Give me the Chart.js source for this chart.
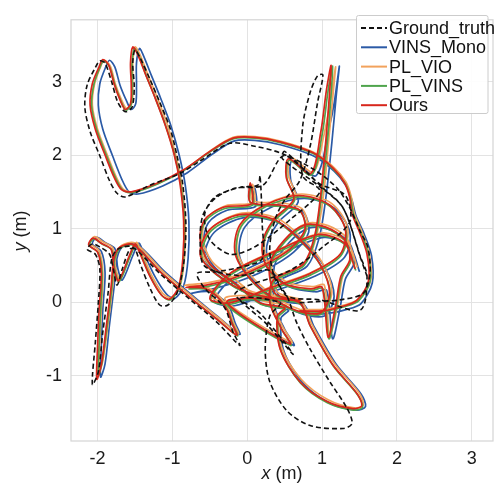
<!DOCTYPE html>
<html>
<head>
<meta charset="utf-8">
<script src="https://cdn.jsdelivr.net/npm/chart.js@4.4.1/dist/chart.umd.min.js"></script>
<style>
html,body{margin:0;padding:0;background:#fff;}
#wrap{width:496px;height:491px;position:relative;}
</style>
</head>
<body>
<div id="wrap"><canvas id="c" width="496" height="491"></canvas></div>
<script>
const seriesNames = ["Ground_truth", "VINS_Mono", "PL_VIO", "PL_VINS", "Ours"];
const xTicks = [-2, -1, 0, 1, 2, 3];
const yTicks = [-1, 0, 1, 2, 3];

const groundTruth = [[0.70,-0.01],[0.97,0.01],[1.24,0.03],[1.55,0.12],[1.64,0.39],[1.61,0.75],[1.51,0.96],[1.37,1.28],[1.20,1.55],[0.88,1.81],[0.44,2.03],[0.10,2.12],[-0.23,2.16],[-0.63,1.92],[-0.90,1.75],[-1.30,1.59],[-1.63,1.43],[-1.74,1.48],[-1.84,1.65],[-1.97,1.99],[-2.10,2.32],[-2.17,2.65],[-2.14,2.95],[-2.03,3.19],[-1.97,3.28],[-1.90,3.25],[-1.81,2.99],[-1.73,2.72],[-1.63,2.59],[-1.54,2.65],[-1.51,2.92],[-1.53,3.25],[-1.50,3.43],[-1.43,3.32],[-1.30,3.03],[-1.17,2.72],[-1.03,2.36],[-0.93,1.95],[-0.86,1.59],[-0.82,1.05],[-0.85,0.52],[-0.94,0.12],[-1.06,-0.04],[-1.17,-0.04],[-1.30,0.19],[-1.43,0.52],[-1.50,0.72],[-1.57,0.72],[-1.67,0.45],[-1.74,0.23],[-1.79,0.45],[-1.84,0.65],[-1.97,0.75],[-2.07,0.79],[-2.14,0.72],[-2.03,0.65],[-1.97,0.45],[-1.99,-0.01],[-2.03,-0.55],[-2.07,-1.12],[-1.99,-0.95],[-1.93,-0.41],[-1.86,0.12],[-1.81,0.59],[-1.73,0.72],[-1.54,0.75],[-1.17,0.39],[-0.77,0.04],[-0.43,-0.25],[-0.10,-0.59],[-0.19,-0.41],[-0.30,-0.08],[-0.57,0.19],[-0.67,0.39],[-0.43,0.41],[-0.03,0.49],[0.20,0.59],[0.20,1.05],[0.17,1.72],[0.14,1.59],[-0.10,1.56],[-0.43,1.43],[-0.57,1.19],[-0.50,0.85],[-0.23,0.65],[0.04,0.72],[0.30,0.89],[0.57,1.12],[0.84,1.35],[0.97,1.52],[0.74,1.72],[0.74,2.39],[0.84,2.85],[0.94,3.08],[1.01,3.09],[0.94,2.72],[0.84,2.12],[0.70,1.65],[0.50,1.39],[0.37,1.12],[0.30,0.72],[0.37,0.32],[0.53,0.08],[0.66,-0.28],[0.84,-0.64],[1.10,-1.08],[1.33,-1.44],[1.40,-1.65],[1.28,-1.72],[0.84,-1.68],[0.53,-1.48],[0.30,-1.08],[0.24,-0.64],[0.30,-0.19],[0.44,-0.01],[-0.10,0.05],[0.24,-0.28],[0.61,-0.71],[0.50,-0.55],[0.17,-0.15],[-0.16,0.12],[0.57,0.43],[1.01,0.75],[1.37,1.09],[1.31,1.45],[0.95,1.62],[0.50,2.05],[0.47,1.95],[0.97,1.57],[1.28,1.28],[1.51,0.62],[1.60,0.35],[1.51,-0.11],[0.97,0.03],[0.53,0.08],[0.30,0.43],[-0.10,0.36],[-0.57,0.49],[-0.63,0.85],[-0.59,1.19],[-0.43,1.41],[-0.16,1.55],[0.21,1.59],[0.48,1.99],[0.77,1.79],[0.97,1.59],[1.28,1.28],[1.51,0.61],[1.60,0.35]];

const vinsMono = [[0.73,-0.15],[1.03,-0.16],[1.33,-0.10],[1.52,-0.02],[1.67,0.26],[1.66,0.63],[1.56,0.93],[1.45,1.18],[1.40,1.38],[1.32,1.58],[1.16,1.78],[0.88,1.99],[0.44,2.14],[0.10,2.20],[-0.18,2.19],[-0.47,2.01],[-0.80,1.76],[-1.13,1.58],[-1.46,1.47],[-1.58,1.50],[-1.68,1.68],[-1.80,1.99],[-1.93,2.35],[-1.99,2.68],[-1.97,2.97],[-1.89,3.20],[-1.84,3.29],[-1.77,3.20],[-1.70,2.95],[-1.61,2.73],[-1.55,2.62],[-1.49,2.70],[-1.48,2.95],[-1.48,3.25],[-1.44,3.45],[-1.39,3.36],[-1.28,3.08],[-1.16,2.78],[-1.02,2.40],[-0.91,2.00],[-0.83,1.60],[-0.78,1.10],[-0.79,0.60],[-0.85,0.22],[-0.97,0.05],[-1.08,0.11],[-1.24,0.36],[-1.40,0.71],[-1.45,0.80],[-1.53,0.63],[-1.67,0.30],[-1.73,0.46],[-1.77,0.73],[-1.90,0.81],[-2.01,0.88],[-2.07,0.79],[-1.95,0.69],[-1.90,0.40],[-1.93,-0.10],[-1.95,-0.60],[-1.96,-1.02],[-1.90,-0.84],[-1.84,-0.30],[-1.78,0.20],[-1.74,0.60],[-1.66,0.76],[-1.48,0.79],[-1.10,0.41],[-0.70,0.06],[-0.38,-0.21],[-0.10,-0.44],[-0.16,-0.29],[-0.26,-0.03],[-0.50,0.14],[-0.75,0.12],[-0.50,0.17],[-0.15,0.27],[0.25,0.44],[0.62,0.68],[0.82,0.95],[0.75,1.22],[0.49,1.30],[0.09,1.34],[0.10,1.55],[0.11,1.30],[-0.27,1.25],[-0.52,1.08],[-0.58,0.81],[-0.45,0.49],[-0.11,0.22],[0.22,-0.04],[0.55,-0.11],[0.45,-0.22],[0.49,-0.67],[0.75,-1.11],[1.11,-1.38],[1.46,-1.47],[1.58,-1.42],[1.52,-1.25],[1.19,-0.85],[0.89,-0.33],[0.75,-0.03],[0.35,0.02],[-0.25,-0.03],[0.62,-0.59],[0.50,-0.37],[0.35,-0.02],[0.40,0.27],[0.80,0.49],[0.96,0.87],[1.05,1.42],[1.13,2.17],[1.19,2.82],[1.23,3.21],[1.16,2.70],[1.10,2.40],[0.92,1.72],[0.60,1.92],[0.58,1.66],[0.68,1.36],[0.41,1.08],[0.26,0.76],[0.31,0.46],[0.56,0.21],[0.91,0.14],[1.06,0.16],[1.14,-0.50],[1.24,-0.08],[1.31,0.31],[1.43,0.54],[1.36,0.81],[1.11,0.98],[0.83,1.01],[0.56,0.81],[0.36,0.48],[0.43,0.08],[0.75,-0.02],[0.10,0.08],[-0.37,0.35],[-0.57,0.61],[-0.44,0.95],[-0.04,1.15],[0.43,1.08],[0.76,0.81],[1.03,0.48],[1.16,0.08],[1.03,-0.19],[0.63,-0.12],[0.16,0.21],[-0.10,0.61],[-0.04,1.01],[0.30,1.28],[0.76,1.41],[1.16,1.28],[1.37,0.95],[1.30,0.61],[0.90,0.35],[0.36,0.15],[-0.17,-0.05],[-0.44,0.01],[-0.17,0.35],[0.50,0.68],[1.03,0.88],[1.37,0.75],[1.50,0.41]];

const plVio = [[0.72,-0.10],[1.02,-0.10],[1.33,-0.03],[1.50,0.05],[1.65,0.30],[1.63,0.66],[1.53,0.96],[1.43,1.21],[1.39,1.43],[1.32,1.63],[1.16,1.83],[0.88,2.04],[0.44,2.19],[0.10,2.25],[-0.19,2.24],[-0.49,2.06],[-0.84,1.80],[-1.18,1.62],[-1.52,1.50],[-1.65,1.53],[-1.75,1.70],[-1.87,2.00],[-2.00,2.35],[-2.07,2.68],[-2.04,2.97],[-1.96,3.20],[-1.91,3.29],[-1.83,3.21],[-1.76,2.96],[-1.68,2.75],[-1.61,2.63],[-1.54,2.71],[-1.53,2.96],[-1.53,3.26],[-1.50,3.47],[-1.44,3.38],[-1.33,3.10],[-1.21,2.80],[-1.07,2.42],[-0.96,2.02],[-0.88,1.62],[-0.83,1.10],[-0.84,0.60],[-0.90,0.21],[-1.02,0.06],[-1.13,0.12],[-1.28,0.37],[-1.43,0.72],[-1.48,0.81],[-1.56,0.64],[-1.70,0.31],[-1.76,0.47],[-1.80,0.74],[-1.93,0.82],[-2.04,0.89],[-2.10,0.80],[-1.98,0.70],[-1.93,0.40],[-1.95,-0.10],[-1.97,-0.55],[-1.98,-0.95],[-1.93,-0.80],[-1.86,-0.30],[-1.80,0.20],[-1.76,0.60],[-1.68,0.77],[-1.50,0.80],[-1.13,0.42],[-0.73,0.07],[-0.40,-0.20],[-0.12,-0.43],[-0.18,-0.29],[-0.28,-0.04],[-0.53,0.20],[-0.84,0.23],[-0.53,0.26],[-0.18,0.35],[0.22,0.52],[0.59,0.75],[0.80,1.01],[0.73,1.27],[0.46,1.35],[0.07,1.38],[0.07,1.60],[0.09,1.36],[-0.29,1.31],[-0.54,1.14],[-0.60,0.87],[-0.47,0.55],[-0.13,0.28],[0.20,0.02],[0.52,-0.05],[0.42,-0.17],[0.46,-0.62],[0.72,-1.05],[1.08,-1.33],[1.43,-1.44],[1.55,-1.40],[1.49,-1.23],[1.16,-0.83],[0.86,-0.30],[0.72,0.01],[0.32,0.08],[-0.30,0.04],[0.59,-0.55],[0.47,-0.33],[0.32,0.02],[0.37,0.32],[0.78,0.54],[0.93,0.92],[1.02,1.47],[1.09,2.22],[1.15,2.87],[1.18,3.20],[1.12,2.80],[1.02,2.25],[0.88,1.77],[0.58,1.97],[0.55,1.72],[0.65,1.42],[0.38,1.14],[0.23,0.82],[0.28,0.52],[0.53,0.27],[0.88,0.21],[1.03,0.23],[1.10,-0.45],[1.21,-0.03],[1.28,0.37],[1.40,0.60],[1.33,0.87],[1.08,1.04],[0.80,1.07],[0.53,0.87],[0.33,0.54],[0.40,0.14],[0.72,0.04],[0.07,0.14],[-0.40,0.41],[-0.60,0.67],[-0.47,1.01],[-0.07,1.21],[0.40,1.14],[0.73,0.87],[1.00,0.54],[1.13,0.14],[1.00,-0.13],[0.60,-0.06],[0.13,0.27],[-0.13,0.67],[-0.07,1.07],[0.27,1.34],[0.73,1.47],[1.13,1.34],[1.34,1.01],[1.27,0.67],[0.87,0.41],[0.33,0.21],[-0.20,0.01],[-0.47,0.07],[-0.20,0.41],[0.47,0.74],[1.00,0.94],[1.34,0.81],[1.47,0.47]];

const plVins = [[0.71,-0.13],[1.01,-0.13],[1.31,-0.06],[1.49,0.02],[1.64,0.28],[1.62,0.64],[1.52,0.94],[1.42,1.19],[1.38,1.41],[1.31,1.61],[1.15,1.81],[0.88,2.02],[0.44,2.17],[0.10,2.23],[-0.19,2.22],[-0.50,2.04],[-0.85,1.79],[-1.19,1.61],[-1.53,1.49],[-1.66,1.52],[-1.76,1.69],[-1.88,1.99],[-2.01,2.34],[-2.08,2.67],[-2.05,2.96],[-1.97,3.19],[-1.92,3.28],[-1.84,3.20],[-1.77,2.96],[-1.69,2.74],[-1.62,2.61],[-1.55,2.69],[-1.54,2.94],[-1.54,3.24],[-1.51,3.45],[-1.45,3.36],[-1.35,3.08],[-1.23,2.78],[-1.09,2.40],[-0.97,2.00],[-0.89,1.60],[-0.84,1.09],[-0.85,0.59],[-0.91,0.19],[-1.03,0.03],[-1.14,0.09],[-1.29,0.34],[-1.44,0.69],[-1.49,0.78],[-1.57,0.61],[-1.71,0.28],[-1.77,0.44],[-1.81,0.71],[-1.94,0.79],[-2.05,0.86],[-2.11,0.77],[-1.99,0.67],[-1.94,0.39],[-1.96,-0.10],[-1.98,-0.58],[-1.99,-1.00],[-1.94,-0.82],[-1.87,-0.31],[-1.81,0.19],[-1.77,0.59],[-1.69,0.74],[-1.51,0.77],[-1.14,0.39],[-0.74,0.04],[-0.41,-0.23],[-0.13,-0.46],[-0.19,-0.31],[-0.29,-0.06],[-0.54,0.17],[-0.78,0.18],[-0.54,0.21],[-0.19,0.30],[0.21,0.47],[0.58,0.70],[0.78,0.97],[0.71,1.23],[0.45,1.30],[0.05,1.34],[0.05,1.58],[0.07,1.32],[-0.31,1.27],[-0.56,1.10],[-0.62,0.83],[-0.49,0.50],[-0.15,0.23],[0.18,-0.03],[0.51,-0.10],[0.41,-0.21],[0.45,-0.66],[0.71,-1.10],[1.07,-1.37],[1.42,-1.47],[1.54,-1.43],[1.48,-1.27],[1.15,-0.87],[0.85,-0.34],[0.71,-0.03],[0.31,0.03],[-0.28,-0.02],[0.58,-0.59],[0.46,-0.37],[0.31,-0.02],[0.36,0.28],[0.76,0.50],[0.91,0.88],[0.99,1.43],[1.07,2.18],[1.12,2.83],[1.14,3.21],[1.08,2.88],[1.00,2.28],[0.86,1.73],[0.56,1.93],[0.53,1.68],[0.63,1.38],[0.36,1.10],[0.21,0.78],[0.26,0.48],[0.51,0.23],[0.86,0.16],[1.01,0.18],[1.09,-0.50],[1.19,-0.07],[1.26,0.33],[1.38,0.56],[1.31,0.83],[1.06,1.00],[0.78,1.03],[0.51,0.83],[0.31,0.50],[0.38,0.10],[0.71,0.00],[0.05,0.10],[-0.41,0.37],[-0.61,0.63],[-0.48,0.97],[-0.08,1.17],[0.38,1.10],[0.71,0.83],[0.98,0.50],[1.11,0.10],[0.98,-0.17],[0.58,-0.10],[0.11,0.23],[-0.14,0.63],[-0.08,1.03],[0.25,1.30],[0.71,1.43],[1.11,1.30],[1.32,0.97],[1.25,0.63],[0.85,0.37],[0.31,0.17],[-0.22,-0.03],[-0.49,0.03],[-0.22,0.37],[0.45,0.70],[0.98,0.90],[1.32,0.77],[1.45,0.43]];

const ours = [[0.70,-0.12],[1.00,-0.12],[1.30,-0.05],[1.47,0.03],[1.62,0.29],[1.60,0.65],[1.50,0.95],[1.40,1.20],[1.37,1.42],[1.30,1.62],[1.15,1.82],[0.88,2.03],[0.44,2.18],[0.10,2.24],[-0.19,2.23],[-0.50,2.05],[-0.85,1.80],[-1.20,1.62],[-1.55,1.50],[-1.68,1.53],[-1.78,1.70],[-1.90,2.00],[-2.03,2.35],[-2.10,2.68],[-2.07,2.97],[-1.98,3.20],[-1.93,3.30],[-1.85,3.22],[-1.78,2.97],[-1.70,2.75],[-1.63,2.62],[-1.56,2.70],[-1.55,2.95],[-1.56,3.25],[-1.53,3.47],[-1.47,3.38],[-1.36,3.10],[-1.24,2.80],[-1.10,2.42],[-0.98,2.02],[-0.90,1.62],[-0.85,1.10],[-0.86,0.60],[-0.92,0.20],[-1.04,0.04],[-1.15,0.10],[-1.30,0.35],[-1.45,0.70],[-1.50,0.79],[-1.58,0.62],[-1.72,0.29],[-1.78,0.45],[-1.82,0.72],[-1.95,0.80],[-2.06,0.87],[-2.12,0.78],[-2.00,0.68],[-1.95,0.40],[-1.98,-0.10],[-2.00,-0.60],[-2.01,-1.05],[-1.95,-0.85],[-1.88,-0.30],[-1.82,0.20],[-1.78,0.60],[-1.70,0.75],[-1.52,0.78],[-1.15,0.40],[-0.75,0.05],[-0.42,-0.22],[-0.14,-0.45],[-0.20,-0.30],[-0.30,-0.05],[-0.55,0.18],[-0.82,0.20],[-0.55,0.23],[-0.20,0.32],[0.20,0.49],[0.57,0.72],[0.77,0.99],[0.70,1.25],[0.44,1.32],[0.04,1.36],[0.04,1.62],[0.06,1.34],[-0.32,1.29],[-0.57,1.12],[-0.63,0.85],[-0.50,0.52],[-0.16,0.25],[0.17,-0.01],[0.50,-0.08],[0.40,-0.19],[0.44,-0.64],[0.70,-1.08],[1.06,-1.35],[1.41,-1.45],[1.53,-1.41],[1.47,-1.25],[1.14,-0.85],[0.84,-0.32],[0.70,-0.01],[0.30,0.05],[-0.27,0.00],[0.57,-0.57],[0.45,-0.35],[0.30,0.00],[0.35,0.30],[0.75,0.52],[0.90,0.90],[0.98,1.45],[1.05,2.20],[1.10,2.85],[1.12,3.22],[1.06,2.90],[0.98,2.30],[0.85,1.75],[0.55,1.95],[0.52,1.70],[0.62,1.40],[0.35,1.12],[0.20,0.80],[0.25,0.50],[0.50,0.25],[0.85,0.18],[1.00,0.20],[1.08,-0.48],[1.18,-0.05],[1.25,0.35],[1.37,0.58],[1.30,0.85],[1.05,1.02],[0.77,1.05],[0.50,0.85],[0.30,0.52],[0.37,0.12],[0.70,0.02],[0.04,0.12],[-0.43,0.39],[-0.63,0.65],[-0.50,0.99],[-0.10,1.19],[0.37,1.12],[0.70,0.85],[0.97,0.52],[1.10,0.12],[0.97,-0.15],[0.57,-0.08],[0.10,0.25],[-0.16,0.65],[-0.10,1.05],[0.24,1.32],[0.70,1.45],[1.10,1.32],[1.31,0.99],[1.24,0.65],[0.84,0.39],[0.30,0.19],[-0.23,-0.01],[-0.50,0.05],[-0.23,0.39],[0.44,0.72],[0.97,0.92],[1.31,0.79],[1.44,0.45]];

const FONT = '"Liberation Sans", Arial, Helvetica, sans-serif';
const toPts = a => a.map(p => ({x: p[0], y: p[1]}));

const colors = ['#111111', '#2b5aa6', '#f2a25c', '#4fa44c', '#d8261c'];
const seriesData = [groundTruth, vinsMono, plVio, plVins, ours];
const orders = [0, 4, 3, 2, 1];

const datasets = seriesNames.map((name, i) => ({
  label: name,
  data: toPts(seriesData[i]),
  showLine: true,
  borderColor: colors[i],
  backgroundColor: colors[i],
  borderWidth: i === 0 ? 1.6 : 1.7,
  borderDash: i === 0 ? [5, 3] : [],
  pointRadius: 0,
  pointHoverRadius: 0,
  tension: 0.3,
  fill: false,
  order: orders[i]
}));

const decor = {
  id: 'decor',
  afterDraw(chart) {
    const ctx = chart.ctx;
    const a = chart.chartArea;
    ctx.save();
    ctx.strokeStyle = '#d4d4d4';
    ctx.lineWidth = 1.2;
    ctx.strokeRect(a.left, a.top, a.right - a.left, a.bottom - a.top);
    ctx.fillStyle = '#1a1a1a';
    ctx.textBaseline = 'middle';
    const drawTitle = (letter, cx, cy) => {
      ctx.font = 'italic 18px ' + FONT;
      const w1 = ctx.measureText(letter).width;
      ctx.font = '18px ' + FONT;
      const w2 = ctx.measureText(' (m)').width;
      const start = cx - (w1 + w2) / 2;
      ctx.textAlign = 'left';
      ctx.font = 'italic 18px ' + FONT;
      ctx.fillText(letter, start, cy);
      ctx.font = '18px ' + FONT;
      ctx.fillText(' (m)', start + w1, cy);
    };
    drawTitle('x', 282, 474);
    ctx.save();
    ctx.translate(21, 231);
    ctx.rotate(-Math.PI / 2);
    drawTitle('y', 0, 0);
    ctx.restore();
    const lx = 356.5, ly = 15.5, lw = 131.5, lh = 98;
    ctx.fillStyle = 'rgba(255,255,255,0.92)';
    ctx.strokeStyle = '#cccccc';
    ctx.lineWidth = 1;
    ctx.beginPath();
    if (ctx.roundRect) ctx.roundRect(lx, ly, lw, lh, 2); else ctx.rect(lx, ly, lw, lh);
    ctx.fill();
    ctx.stroke();
    chart.data.datasets.forEach((ds, i) => {
      const yy = 28 + i * 19.3;
      ctx.strokeStyle = ds.borderColor;
      ctx.lineWidth = 2;
      ctx.setLineDash(ds.borderDash && ds.borderDash.length ? [5, 3] : []);
      ctx.beginPath();
      ctx.moveTo(361, yy);
      ctx.lineTo(387, yy);
      ctx.stroke();
      ctx.setLineDash([]);
      ctx.fillStyle = '#111';
      ctx.font = '18px ' + FONT;
      ctx.textAlign = 'left';
      ctx.textBaseline = 'middle';
      ctx.fillText(ds.label, 389, yy + 1);
    });
    ctx.restore();
  }
};

new Chart(document.getElementById('c'), {
  type: 'scatter',
  data: { datasets },
  options: {
    responsive: false,
    animation: false,
    events: [],
    layout: { padding: { left: 0, top: 11, right: 3, bottom: 0 } },
    plugins: { legend: { display: false }, tooltip: { enabled: false } },
    scales: {
      x: {
        type: 'linear',
        min: -2.355, max: 3.283,
        afterBuildTicks: s => { s.ticks = xTicks.map(v => ({value: v})); },
        afterFit: s => { s.height = 50; },
        grid: { color: '#e3e3e3', lineWidth: 1, drawTicks: false },
        border: { display: false },
        ticks: { padding: 7, color: '#1a1a1a', font: { size: 18, family: FONT }, maxRotation: 0 }
      },
      y: {
        type: 'linear',
        min: -1.89, max: 3.84,
        afterBuildTicks: s => { s.ticks = yTicks.map(v => ({value: v})); },
        afterFit: s => { s.width = 71; },
        grid: { color: '#e3e3e3', lineWidth: 1, drawTicks: false },
        border: { display: false },
        ticks: { padding: 9, color: '#1a1a1a', font: { size: 18, family: FONT } }
      }
    }
  },
  plugins: [decor]
});
</script>
</body>
</html>
